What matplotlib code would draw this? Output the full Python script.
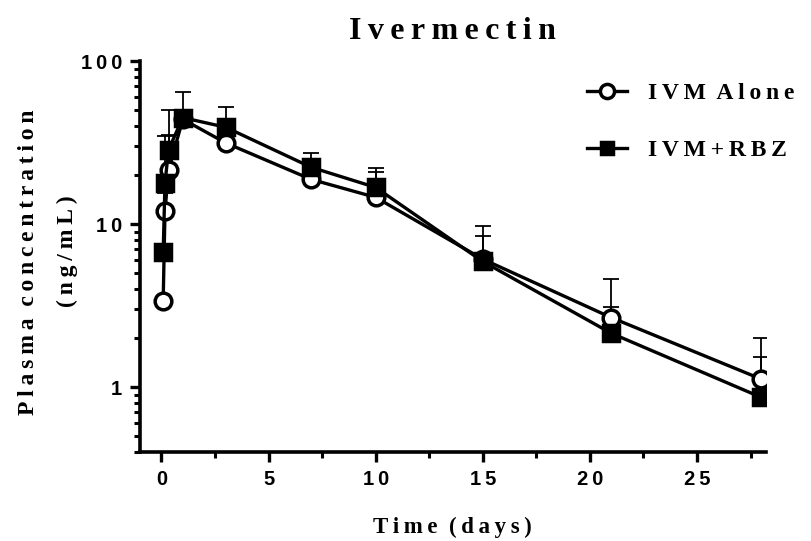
import numpy as np
import matplotlib
matplotlib.use('Agg')
import matplotlib.pyplot as plt
from matplotlib.ticker import LogLocator, NullFormatter, FixedLocator

# Sampling times (days)
times = [0.083, 0.167, 0.333, 1, 3, 7, 10, 15, 21, 28]

# IVM alone: mean and upper end of the SD bar (ng/mL)
alone_mean = [3.4, 12.0, 21.5, 44.0, 31.5, 18.8, 14.6, 6.1, 2.67, 1.12]
alone_upper = [3.4, 15.6, 35.0, 65.0, 31.5, 18.8, 21.0, 9.7, 4.62, 1.99]

# IVM + RBZ
rbz_mean = [6.7, 17.8, 28.6, 45.0, 39.3, 22.3, 16.8, 5.9, 2.14, 0.865]
rbz_upper = [6.7, 34.9, 50.1, 45.0, 52.1, 27.5, 22.1, 8.4, 3.12, 1.52]

x_ticks = [0, 5, 10, 15, 20, 25]
y_ticks = [1, 10, 100]

serif = ['Liberation Serif', 'DejaVu Serif']
sans = ['Liberation Sans', 'DejaVu Sans']


def spaced(s):
    # the original export puts wide gaps between letters
    return '\u2009'.join(s)


fig = plt.figure(figsize=(8.11, 5.41), dpi=100)
ax = fig.add_axes([0.1726, 0.1645, 0.944 - 0.1726, 0.887 - 0.1645])

for mean, upper, marker, face, label in [
        (alone_mean, alone_upper, 'o', 'white', 'IVM Alone'),
        (rbz_mean, rbz_upper, 's', 'black', 'IVM+RBZ')]:
    mean = np.array(mean)
    err = np.array(upper) - mean
    ax.errorbar(times, mean, yerr=[np.zeros_like(err), err], fmt='none',
                ecolor='black', elinewidth=1.3, capsize=6, capthick=1.3, zorder=2)
    ax.plot(times, mean, color='black', lw=2.4, marker=marker,
            markersize=12 if marker == 'o' else 11, markerfacecolor=face,
            markeredgecolor='black', markeredgewidth=2.5, zorder=3,
            label=spaced(label).replace('\u2009 \u2009', '  '))

ax.set_yscale('log')
ax.set_ylim(0.4, 100)
ax.set_xlim(-1, 28.2)

ax.yaxis.set_major_locator(FixedLocator(y_ticks))
ax.yaxis.set_minor_locator(LogLocator(base=10, subs=np.arange(2, 10)))
ax.yaxis.set_minor_formatter(NullFormatter())
ax.set_yticklabels([spaced(str(v)) for v in y_ticks])
ax.set_xticks(x_ticks)
ax.set_xticklabels([spaced(str(v)) for v in x_ticks])
ax.xaxis.set_minor_locator(FixedLocator(np.arange(2.5, 28, 5)))

for s in ['top', 'right']:
    ax.spines[s].set_visible(False)
for s in ['left', 'bottom']:
    ax.spines[s].set_linewidth(2.6)

ax.tick_params(which='major', direction='out', length=7, width=2.4, pad=6)
ax.tick_params(which='minor', direction='out', length=4, width=2.2)
for lab in ax.get_xticklabels() + ax.get_yticklabels():
    lab.set_family(sans)
    lab.set_fontweight('bold')
    lab.set_fontsize(14.5)

ax.set_title(spaced('Ivermectin'), family=serif, fontweight='bold', fontsize=23, pad=16)
ax.set_xlabel(spaced('Time') + '  ' + spaced('(days)'), family=serif, fontweight='bold',
              fontsize=16.5, labelpad=20)
fig.text(0.035, 0.515, spaced('Plasma') + '  ' + spaced('concentration'), rotation=90,
         ha='center', va='center', family=serif, fontweight='bold', fontsize=17)
fig.text(0.083, 0.535, spaced('(ng/mL)'), rotation=90, ha='center', va='center',
         family=serif, fontweight='bold', fontsize=17)

leg = ax.legend(loc='upper left', bbox_to_anchor=(0.68, 1.0), frameon=False,
                handlelength=1.7, labelspacing=1.5, handletextpad=0.9,
                markerscale=0.85,
                prop={'family': serif, 'weight': 'bold', 'size': 17})

fig.savefig('out.png', dpi=100)
